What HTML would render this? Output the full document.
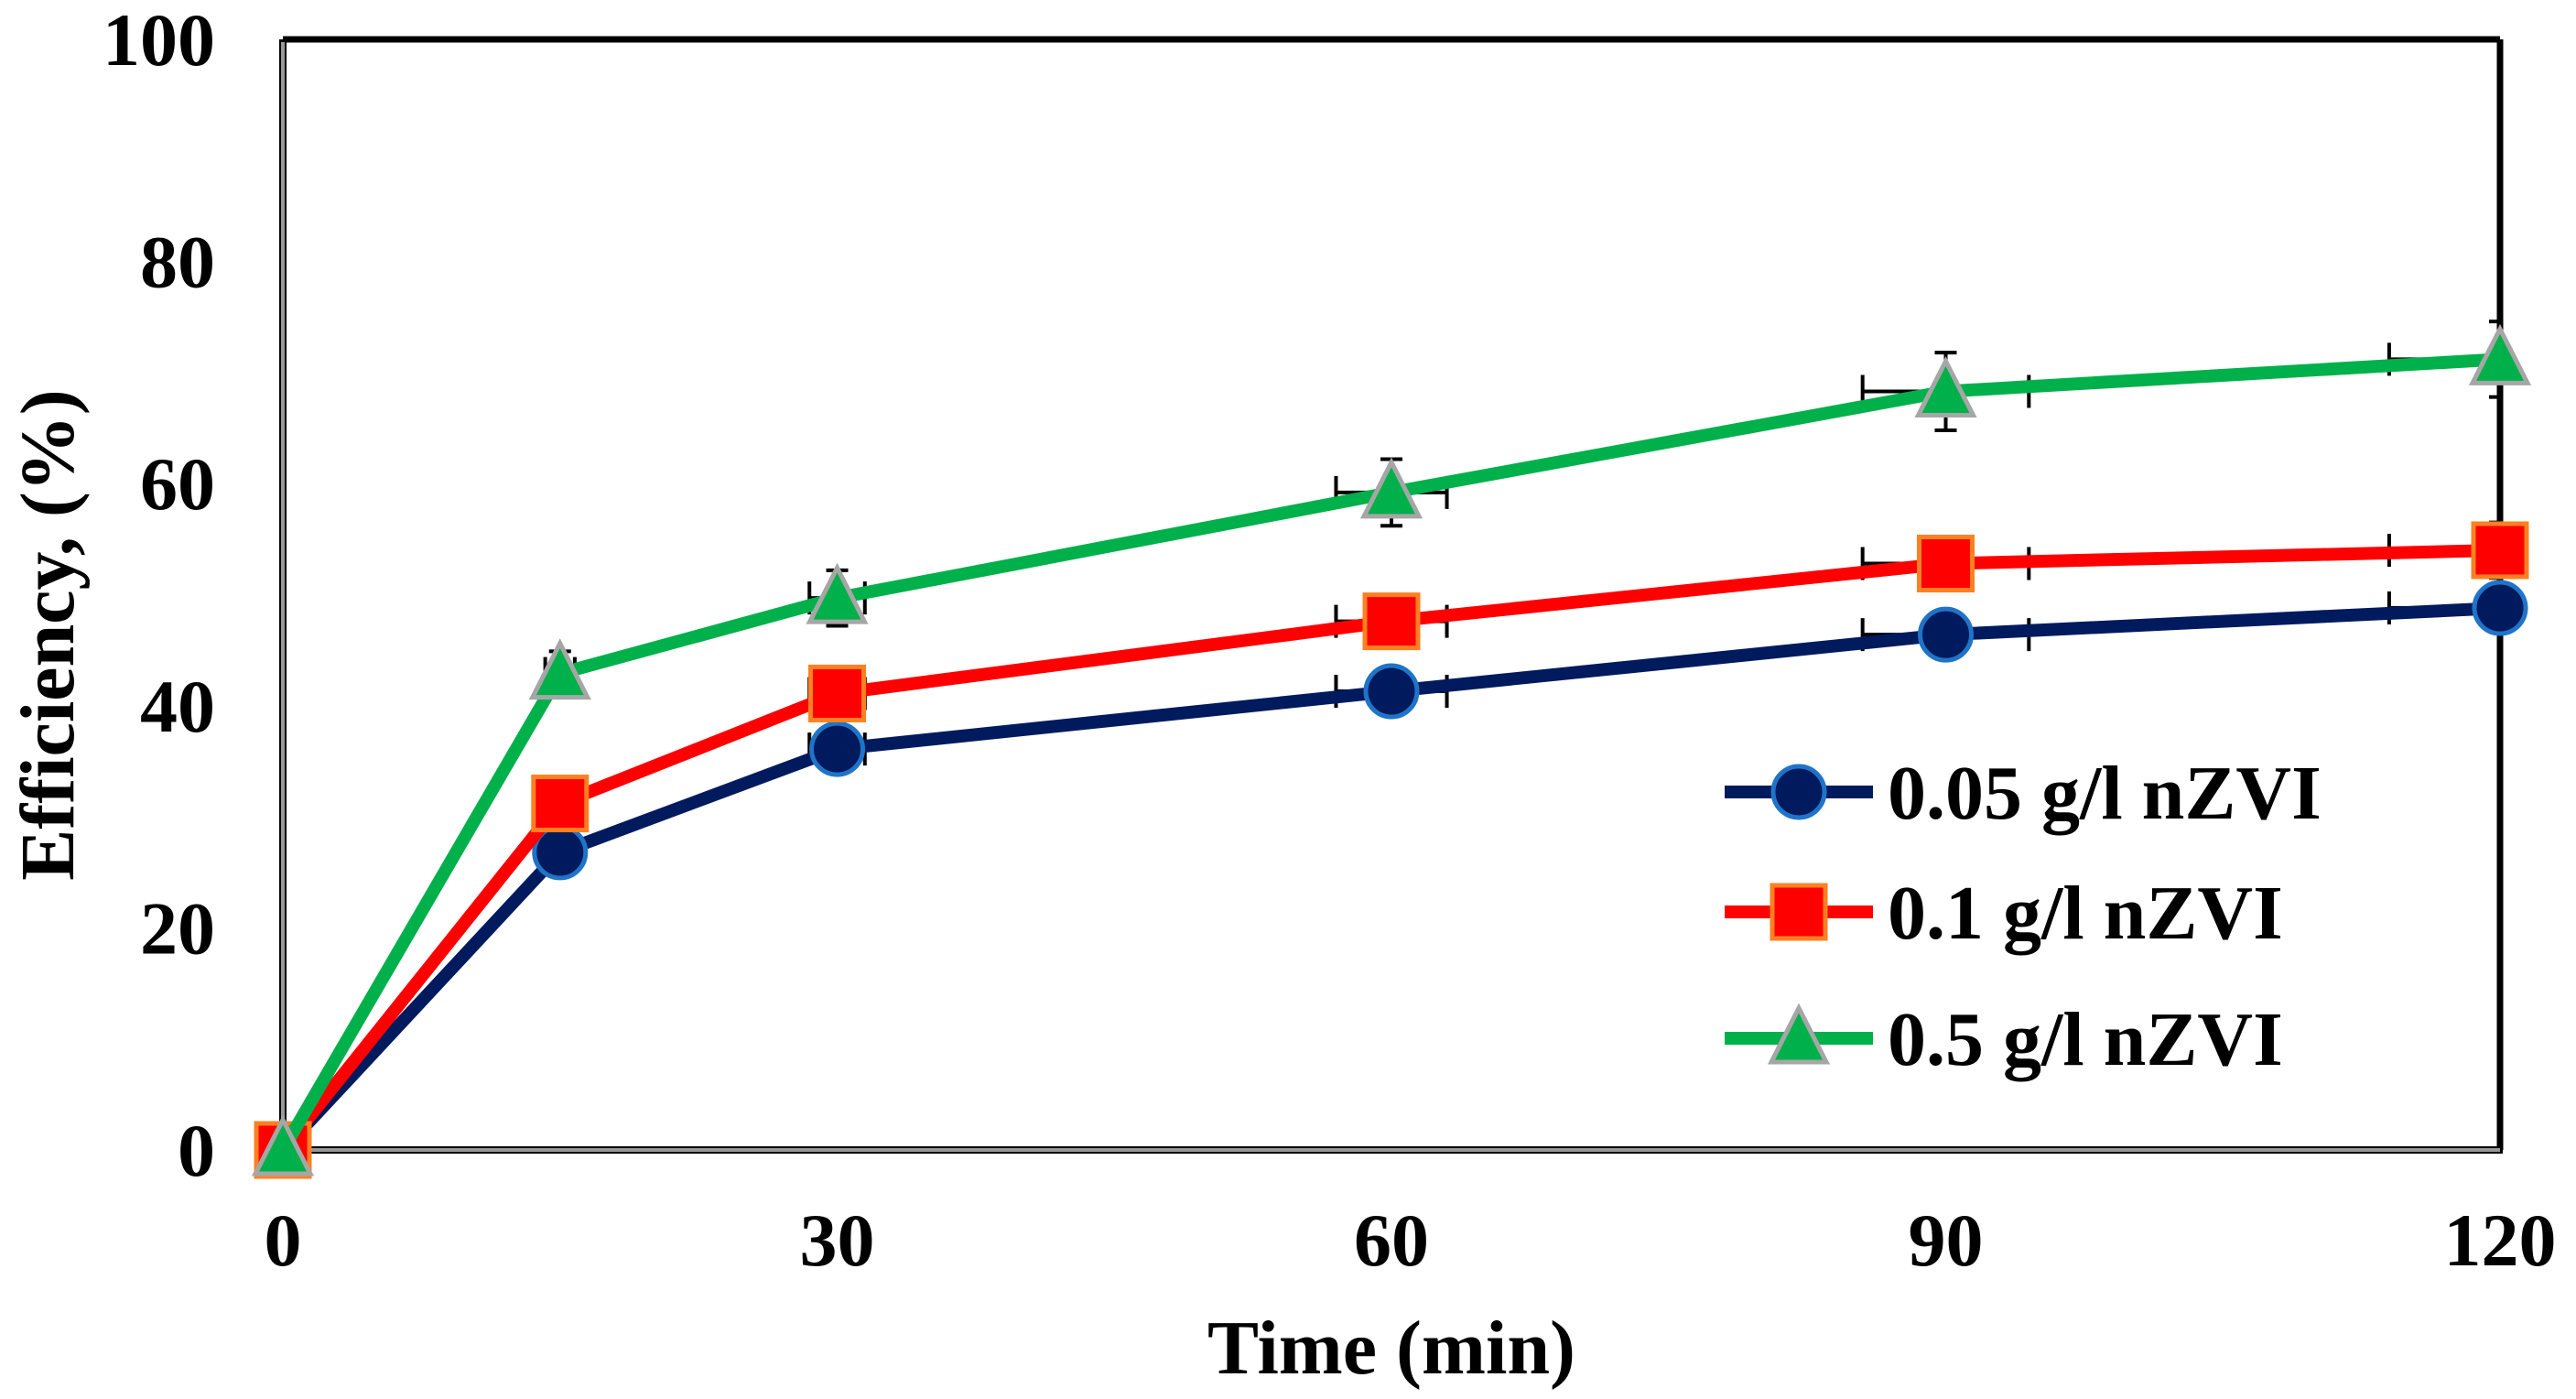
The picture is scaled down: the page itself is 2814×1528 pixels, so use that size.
<!DOCTYPE html>
<html><head><meta charset="utf-8"><style>
html,body{margin:0;padding:0;background:#fff;}
svg{display:block;font-family:"Liberation Serif",serif;font-weight:bold;}
</style></head><body>
<svg id="chart" width="2814" height="1528" viewBox="0 0 2814 1528" xmlns="http://www.w3.org/2000/svg">
<defs><clipPath id="clip"><rect x="309" y="43" width="2422" height="1213"/></clipPath></defs>
<g id="plot"></g>
</svg>
<script>
const times = [0, 15, 30, 60, 90, 120];
const seriesNames = ["0.05 g/l nZVI", "0.1 g/l nZVI", "0.5 g/l nZVI"];
const blueVals = [0, 26.8, 36.1, 41.3, 46.4, 48.8];
const redVals = [0, 31.2, 41.1, 47.6, 52.8, 54.0];
const greenVals = [0, 42.9, 49.7, 59.2, 68.3, 71.2];
const blueErr = [0, 1.5, 1.5, 2.0, 2.0, 1.5];
const redErr = [0, 1.5, 1.5, 1.5, 2.0, 2.5];
const greenErr = [0, 2.0, 2.5, 3.0, 3.5, 3.4];
const xErr = [0, 0.8, 1.5, 3.0, 4.5, 6.0];
const xTicks = [0, 30, 60, 90, 120];
const yTicks = [0, 20, 40, 60, 80, 100];

const NS = "http://www.w3.org/2000/svg";
const L = 309, R = 2731, T = 43, B = 1256;
const xs = v => L + (v - 0) / 120 * (R - L);
const ys = v => B - v / 100 * (B - T);
const g = document.getElementById('plot');
function mk(tag, attrs, parent) {
  const e = document.createElementNS(NS, tag);
  for (const k in attrs) e.setAttribute(k, attrs[k]);
  (parent || g).appendChild(e);
  return e;
}
let e;
e = mk('line', {x1: L, y1: T, x2: R, y2: T, stroke: '#000', 'stroke-width': 7});


e = mk('line', {x1: R, y1: T, x2: R, y2: B, stroke: '#000', 'stroke-width': 7});


e = mk('line', {x1: L, y1: T, x2: L, y2: B, stroke: '#000', 'stroke-width': 8});


mk('line', {x1: L, y1: T + 3, x2: L, y2: B, stroke: '#999', 'stroke-width': 4});
e = mk('line', {x1: L, y1: B, x2: R + 3, y2: B, stroke: '#000', 'stroke-width': 8});


mk('line', {x1: L, y1: B, x2: R, y2: B, stroke: '#999', 'stroke-width': 4});

yTicks.forEach(v => {
  const t = mk('text', {x: 235, y: ys(v) + 28, 'text-anchor': 'end', 'font-size': 82});
  t.textContent = v;
  
  
});
xTicks.forEach(v => {
  const t = mk('text', {x: xs(v), y: 1382, 'text-anchor': 'middle', 'font-size': 82});
  t.textContent = v;
  
  
});
let t = mk('text', {x: xs(60), y: 1500, 'text-anchor': 'middle', 'font-size': 84});
t.textContent = 'Time (min)';


t = mk('text', {x: 0, y: 0, 'text-anchor': 'middle', 'font-size': 84, transform: 'translate(80,' + ((T + B) / 2 + 44) + ') rotate(-90)'});
t.textContent = 'Efficiency, (%)';



const series = [
  {vals: blueVals, err: blueErr, line: '#001a5e', fill: '#001a5e', stroke: '#1f74c8', shape: 'circle'},
  {vals: redVals, err: redErr, line: '#ff0000', fill: '#ff0000', stroke: '#ff8020', shape: 'square'},
  {vals: greenVals, err: greenErr, line: '#00b04a', fill: '#00b04a', stroke: '#a6a6a6', shape: 'triangle'}
];
function marker(shape, cx, cy, s, parent) {
  let m;
  if (shape === 'circle') m = mk('circle', {cx: cx, cy: cy, r: 28, fill: s.fill, stroke: s.stroke, 'stroke-width': 5}, parent);
  else if (shape === 'square') m = mk('rect', {x: cx - 29, y: cy - 29, width: 58, height: 58, fill: s.fill, stroke: s.stroke, 'stroke-width': 5}, parent);
  else m = mk('polygon', {points: `${cx},${cy - 33} ${cx + 30},${cy + 26} ${cx - 30},${cy + 26}`, fill: s.fill, stroke: s.stroke, 'stroke-width': 5}, parent);
  return m;
}
const names = ['series-0-05', 'series-0-1', 'series-0-5'];
series.forEach((s, si) => {
  const sg = mk('g', {});
  
  
  const eg = mk('g', {'clip-path': 'url(#clip)'}, sg);
  times.forEach((tv, i) => {
    if (i === 0) return;
    const x = xs(tv), y = ys(s.vals[i]);
    const y1 = ys(s.vals[i] + s.err[i]), y2 = ys(s.vals[i] - s.err[i]);
    const x1 = xs(tv - xErr[i]), x2 = xs(tv + xErr[i]);
    const eb = mk('path', {d: `M${x},${y1}V${y2}M${x - 12},${y1}H${x + 12}M${x - 12},${y2}H${x + 12}M${x1},${y}H${x2}M${x1},${y - 18}V${y + 18}M${x2},${y - 18}V${y + 18}`, stroke: '#000', 'stroke-width': 4, fill: 'none'}, eg);
    
    
  });
  const pts = times.map((tv, i) => xs(tv) + ',' + ys(s.vals[i])).join(' ');
  const pl = mk('polyline', {points: pts, fill: 'none', stroke: s.line, 'stroke-width': 14, 'stroke-linejoin': 'round'}, sg);
  
  
  times.forEach((tv, i) => {
    const m = marker(s.shape, xs(tv), ys(s.vals[i]), s, sg);
    
    
  });
});
const legY = [865, 996, 1134];
const lg = mk('g', {});


series.forEach((s, si) => {
  const eg = mk('g', {}, lg);
  
  
  mk('line', {x1: 1884, y1: legY[si], x2: 2046, y2: legY[si], stroke: s.line, 'stroke-width': 14}, eg);
  marker(s.shape, 1965, legY[si], s, eg);
  const tx = mk('text', {x: 2062, y: legY[si] + 29, 'font-size': 84}, eg);
  tx.textContent = seriesNames[si];
});
</script>
</body></html>
